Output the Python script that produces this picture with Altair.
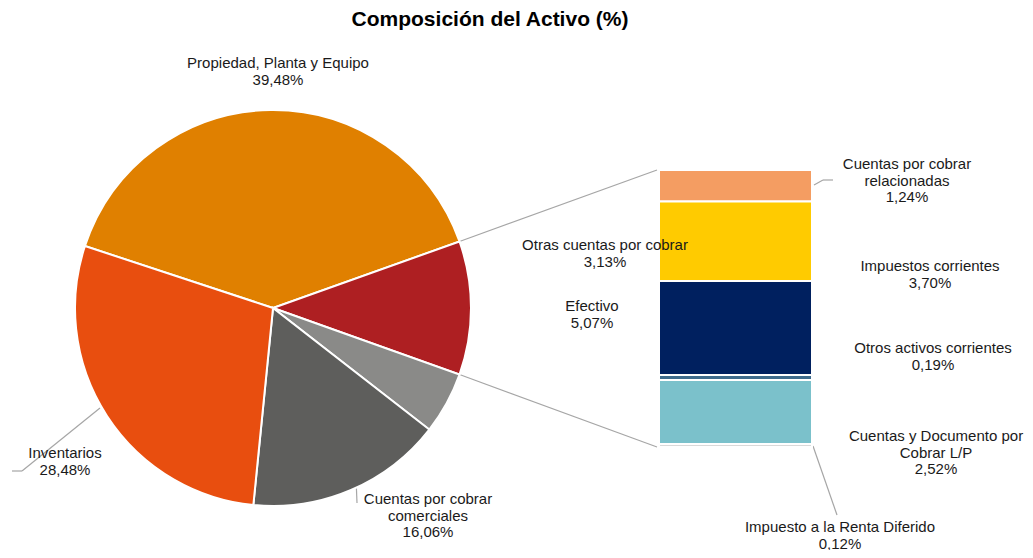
import math
import altair as alt
import pandas as pd

# ---------------- data ----------------
title_text = "Composición del Activo (%)"

pie_names = ["Propiedad, Planta y Equipo", "Otros", "Efectivo",
             "Cuentas por cobrar comerciales", "Inventarios"]
pie_main_values = [39.48, None, 5.07, 16.06, 28.48]   # "Otros" = sum of bar
pie_colors = ["#E08000", "#AE1F22", "#8A8A88", "#5E5E5C", "#E84E0F"]

bar_names = ["Cuentas por cobrar relacionadas", "Otras cuentas por cobrar",
             "Impuestos corrientes", "Otros activos corrientes",
             "Cuentas y Documento por Cobrar L/P", "Impuesto a la Renta Diferido"]
bar_values = [1.24, 3.13, 3.70, 0.19, 2.52, 0.12]
bar_colors = ["#F49D62", "#FFCB00", "#00205F", "#3E6B8C", "#7BC1CB", "#D9D9D9"]

# label display text (names with line breaks) and values
label_names = ["Propiedad, Planta y Equipo", "Inventarios",
               "Cuentas por cobrar\ncomerciales", "Otras cuentas por cobrar", "Efectivo",
               "Cuentas por cobrar\nrelacionadas", "Impuestos corrientes",
               "Otros activos corrientes", "Cuentas y Documento por\nCobrar L/P",
               "Impuesto a la Renta Diferido"]
label_values = [39.48, 28.48, 16.06, 3.13, 5.07, 1.24, 3.70, 0.19, 2.52, 0.12]

# ---------------- layout (pixels) ----------------
OX, OY = 8, 8                       # plot origin on the page
CX, CY, R = 273 - OX, 308 - OY, 198  # pie centre and radius
BAR_X0, BAR_X1 = 659 - OX, 812 - OX
BAR_TOP, BAR_BOT = 170 - OY, 447 - OY
TITLE_X, TITLE_Y = 490 - OX, 26 - OY
# label anchor (centre x, top of first line) in page coordinates
label_pos = [(278, 56), (65, 446), (428, 492), (605, 238), (592, 299),
             (907, 157), (930, 259), (933, 341), (936, 429), (840, 520)]

# ---------------- derived tables ----------------
bar_total = sum(bar_values)
pie_values = [v if v is not None else bar_total for v in pie_main_values]
total = sum(pie_values)
# Otros slice centred on the right-hand side (pie of bar)
start = math.pi / 2 - 2 * math.pi * (pie_values[0] + pie_values[1] / 2) / total

pie_df = pd.DataFrame({"name": pie_names, "value": pie_values,
                       "idx": list(range(len(pie_names)))})
bar_df = pd.DataFrame({"name": bar_names, "value": bar_values,
                       "stackorder": list(range(len(bar_names)))[::-1]})

color_scale = alt.Scale(domain=pie_names + bar_names, range=pie_colors + bar_colors)

pie = alt.Chart(pie_df).mark_arc(outerRadius=R, stroke="white", strokeWidth=2).encode(
    theta=alt.Theta("value:Q", stack=True,
                    scale=alt.Scale(domain=[0, total], range=[start, start + 2 * math.pi])),
    color=alt.Color("name:N", scale=color_scale, legend=None),
    order=alt.Order("idx:Q"),
    x=alt.value(CX), y=alt.value(CY),
)

bar = alt.Chart(bar_df).transform_stack(
    stack="value", groupby=[], sort=[alt.SortField("stackorder", order="ascending")],
    as_=["v0", "v1"],
).mark_bar(stroke="white", strokeWidth=2, orient="vertical").encode(
    x=alt.value(BAR_X0), x2=alt.value(BAR_X1),
    y=alt.Y("v0:Q", axis=None,
            scale=alt.Scale(domain=[0, bar_total], range=[BAR_BOT, BAR_TOP], nice=False, zero=True)),
    y2="v1:Q",
    color=alt.Color("name:N", scale=color_scale, legend=None),
)

# connector lines from the "Otros" slice to the bar
a1 = start + 2 * math.pi * pie_values[0] / total
a2 = start + 2 * math.pi * (pie_values[0] + pie_values[1]) / total
p1 = (CX + R * math.sin(a1), CY - R * math.cos(a1))
p2 = (CX + R * math.sin(a2), CY - R * math.cos(a2))
segs = [
    (p1[0], p1[1], BAR_X0 - 2, BAR_TOP),
    (p2[0], p2[1], BAR_X0 - 2, BAR_BOT),
    # leader lines
    (100 - OX, 408 - OY, 22 - OX, 471 - OY),
    (22 - OX, 471 - OY, 12 - OX, 471 - OY),
    (356 - OX, 478 - OY, 357 - OX, 503 - OY),
    (814 - OX, 185 - OY, 823 - OX, 180 - OY),
    (823 - OX, 180 - OY, 833 - OX, 180 - OY),
    (813 - OX, 446 - OY, 837 - OX, 515 - OY),
]
seg_df = pd.DataFrame(segs, columns=["x", "y", "x2", "y2"])
lines = alt.Chart(seg_df).mark_rule(color="#A6A6A6", strokeWidth=1.2).encode(
    x=alt.X("x:Q", scale=None), y=alt.Y("y:Q", scale=None),
    x2="x2:Q", y2="y2:Q",
)

lab_df = pd.DataFrame({
    "label": [f"{n}\n{v:.2f}%".replace(".", ",") for n, v in zip(label_names, label_values)],
    "x": [p[0] - OX for p in label_pos],
    "y": [p[1] - OY for p in label_pos],
})
labels = alt.Chart(lab_df).mark_text(
    lineBreak="\n", align="center", baseline="top", fontSize=15, lineHeight=16.5,
    font="Liberation Sans", color="#1A1A1A",
).encode(
    x=alt.X("x:Q", scale=None), y=alt.Y("y:Q", scale=None), text="label:N",
)

title_df = pd.DataFrame({"t": [title_text], "x": [TITLE_X], "y": [TITLE_Y]})
title = alt.Chart(title_df).mark_text(
    align="center", baseline="alphabetic", fontSize=21, fontWeight="bold",
    font="Liberation Sans", color="black",
).encode(x=alt.X("x:Q", scale=None), y=alt.Y("y:Q", scale=None), text="t:N")

chart = alt.layer(lines, pie, bar, labels, title).resolve_scale(
    x="independent", y="independent"
).properties(
    width=1017, height=542,
    autosize=alt.AutoSizeParams(type="none"),
    padding={"left": 0, "right": 0, "top": 0, "bottom": 0},
).configure_view(stroke=None)

chart.save("out.html", embed_options={"renderer": "svg", "actions": False})
